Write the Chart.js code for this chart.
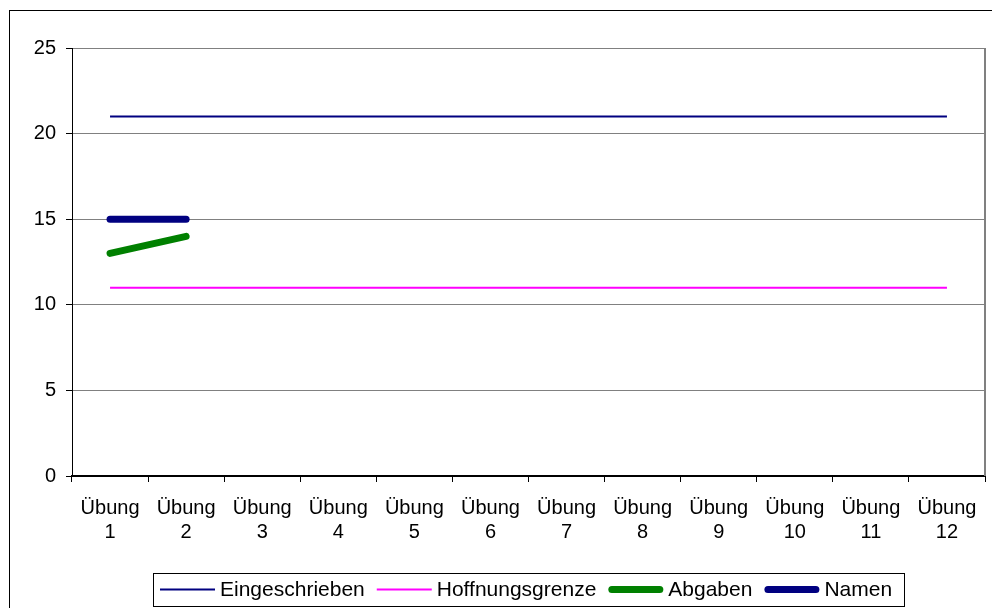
<!DOCTYPE html>
<html>
<head>
<meta charset="utf-8">
<script src="https://cdn.jsdelivr.net/npm/chart.js@4/dist/chart.umd.min.js"></script>
<style>
  html, body { margin: 0; padding: 0; background: #fff; }
  #wrap { width: 992px; height: 608px; position: relative; }
</style>
</head>
<body>
<div id="wrap"><canvas id="c"></canvas></div>
<script>
// Exercise sessions and the counts tracked for each one
const categories = ['Übung 1', 'Übung 2', 'Übung 3', 'Übung 4', 'Übung 5', 'Übung 6',
                    'Übung 7', 'Übung 8', 'Übung 9', 'Übung 10', 'Übung 11', 'Übung 12'];
const eingeschrieben  = [21, 21, 21, 21, 21, 21, 21, 21, 21, 21, 21, 21];
const hoffnungsgrenze = [11, 11, 11, 11, 11, 11, 11, 11, 11, 11, 11, 11];
const abgaben         = [13, 14, null, null, null, null, null, null, null, null, null, null];
const namen           = [15, 15, null, null, null, null, null, null, null, null, null, null];
const yTicks = [0, 5, 10, 15, 20, 25];

const FONT = '"Liberation Sans", Arial, sans-serif';

// Background, outer frame, plot border and the boxed legend underneath
const framePlugin = {
  id: 'frame',
  beforeDraw(chart) {
    const { ctx, width, height } = chart;
    ctx.save();
    ctx.fillStyle = '#fff';
    ctx.fillRect(0, 0, width, height);
    ctx.strokeStyle = '#000';
    ctx.lineWidth = 1;
    ctx.strokeRect(9.5, 10.5, width, height);
    ctx.restore();
  },
  afterDraw(chart) {
    const { ctx, chartArea: a, height } = chart;
    ctx.save();
    // right edge of the plot area
    ctx.strokeStyle = '#808080';
    ctx.lineWidth = 2;
    ctx.beginPath();
    ctx.moveTo(a.right, a.top);
    ctx.lineTo(a.right, a.bottom);
    ctx.stroke();

    // legend
    ctx.font = '21px ' + FONT;
    const items = chart.data.datasets;
    const sample = 55, gapText = 5, gapItem = 12, padL = 7, padR = 12;
    let total = padL + padR;
    items.forEach((d, i) => {
      total += sample + gapText + ctx.measureText(d.label).width;
      if (i < items.length - 1) total += gapItem;
    });
    const boxH = 33;
    const boxTop = height - 35;
    const cx = (a.left + a.right) / 2;
    const boxLeft = Math.round(cx - total / 2);
    ctx.strokeStyle = '#000';
    ctx.lineWidth = 1;
    ctx.strokeRect(boxLeft + 0.5, boxTop + 0.5, Math.round(total), boxH);
    const cy = boxTop + boxH / 2;
    let x = boxLeft + padL;
    items.forEach((d) => {
      ctx.strokeStyle = d.borderColor;
      ctx.lineWidth = d.borderWidth;
      ctx.lineCap = d.borderCapStyle || 'butt';
      const inset = ctx.lineCap === 'round' ? d.borderWidth / 2 : 0;
      ctx.beginPath();
      ctx.moveTo(x + inset, cy);
      ctx.lineTo(x + sample - inset, cy);
      ctx.stroke();
      x += sample + gapText;
      ctx.fillStyle = '#000';
      ctx.textBaseline = 'middle';
      ctx.textAlign = 'left';
      ctx.fillText(d.label, x, cy + 1);
      x += ctx.measureText(d.label).width + gapItem;
    });
    ctx.restore();
  }
};

const lineDefaults = { pointRadius: 0, pointHoverRadius: 0, fill: false, tension: 0, spanGaps: false };

new Chart(document.getElementById('c'), {
  type: 'line',
  data: {
    labels: categories.map(c => c.split(' ')),
    datasets: [
      Object.assign({ label: 'Eingeschrieben', data: eingeschrieben, borderColor: '#000080', borderWidth: 2 }, lineDefaults),
      Object.assign({ label: 'Hoffnungsgrenze', data: hoffnungsgrenze, borderColor: '#FF00FF', borderWidth: 2 }, lineDefaults),
      Object.assign({ label: 'Abgaben', data: abgaben, borderColor: '#008000', borderWidth: 7, borderCapStyle: 'round' }, lineDefaults),
      Object.assign({ label: 'Namen', data: namen, borderColor: '#000080', borderWidth: 7, borderCapStyle: 'round' }, lineDefaults)
    ]
  },
  options: {
    responsive: true,
    maintainAspectRatio: false,
    animation: false,
    devicePixelRatio: 1,
    layout: { padding: { left: 0, top: 48, right: 7, bottom: 50 } },
    plugins: { legend: { display: false }, tooltip: { enabled: false } },
    scales: {
      x: {
        offset: true,
        grid: { offset: true, drawOnChartArea: false, color: '#000', tickColor: '#000', tickLength: 6 },
        border: { color: '#000', width: 2 },
        ticks: { color: '#000', font: { family: FONT, size: 20, lineHeight: 1.2 }, padding: 14, maxRotation: 0, autoSkip: false },
        afterFit(s) { s.height = 82; }
      },
      y: {
        min: 0, max: 25,
        afterBuildTicks(s) { s.ticks = yTicks.map(v => ({ value: v })); },
        grid: { color: (c) => c.tick && c.tick.value === 0 ? '#000' : '#808080', tickColor: '#000', tickLength: 6 },
        border: { color: '#000', width: 1 },
        ticks: { color: '#000', font: { family: FONT, size: 20 }, padding: 10 },
        afterFit(s) { s.width = 72; }
      }
    }
  },
  plugins: [framePlugin]
});
</script>
</body>
</html>
